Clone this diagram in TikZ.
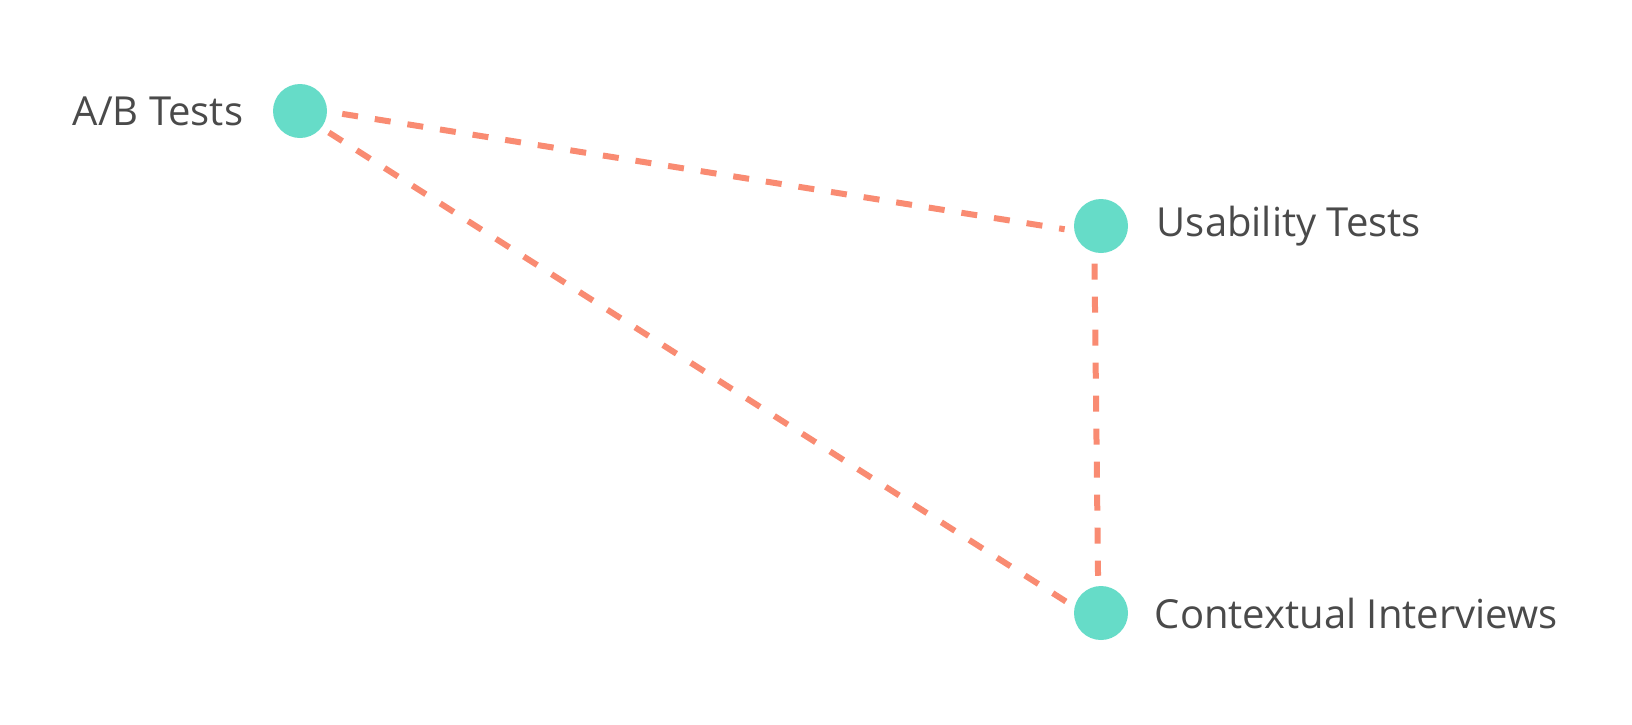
\documentclass[tikz,border=0pt]{standalone}
\usepackage{fontspec}
\setmainfont{Open Sans}
\usetikzlibrary{positioning}
\definecolor{mint}{HTML}{66DCC8}
\definecolor{salmon}{HTML}{F98B72}
\definecolor{labelgray}{HTML}{4A4A4A}

\begin{document}
\begin{tikzpicture}[x=0.5pt, y=-0.5pt,
		method/.style={circle, fill=mint, minimum size=27pt, inner sep=0pt},
		link/.style={salmon, line width=3pt, dash pattern=on 8pt off 8.5pt},
		tag/.style={text=labelgray, font=\fontsize{20}{24}\selectfont, inner sep=0pt}]
	\useasboundingbox (0,0) rectangle (1632,724);
	\node[method] (ab) at (300,111) {};
	\node[method] (us) at (1101,226) {};
	\node[method] (ct) at (1101,613) {};
	\node[tag, left=14.5pt of ab] (ab-tag) {A/B Tests};
	\node[tag, right=14pt of us] (us-tag) {Usability Tests};
	\node[tag, right=13pt of ct] (ct-tag) {Contextual Interviews};
	\draw[link, shorten <=7.5pt, shorten >=4.75pt] (ab.-1) -- (us.190);
	\draw[link, shorten <=4.3pt, shorten >=5pt] (ab.-38) -- (ct.167);
	\draw[link, shorten <=5.5pt, shorten >=5pt] (us.256) -- (ct.96);
\end{tikzpicture}
\end{document}
